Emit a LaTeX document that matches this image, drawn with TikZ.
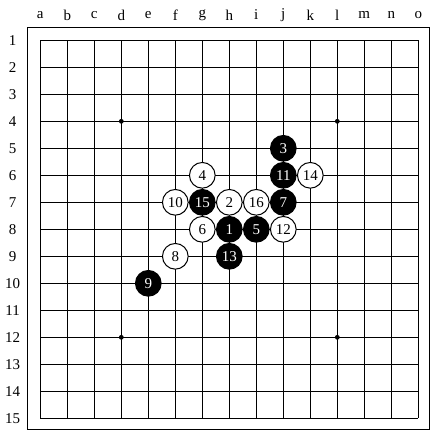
\documentclass[tikz,border=0pt]{standalone}
\usepackage{fontspec}
\setmainfont{Liberation Serif}
\begin{document}
\begin{tikzpicture}[x=27pt,y=-27pt,line width=1pt,font=\fontsize{15}{15}\selectfont,
  bstone/.style={circle,draw=black,fill=black,text=white,minimum size=25.7pt,inner sep=0pt},
  wstone/.style={circle,draw=black,fill=white,text=black,minimum size=25.7pt,inner sep=0pt}]
\useasboundingbox (-0.4926,-0.4926) rectangle (15.507,15.507);
\draw (0.526,0.526) rectangle (15.415,15.415);
% grid
\foreach \k in {1,...,15} {
  \draw (\k,1) -- (\k,15);
  \draw (1,\k) -- (15,\k);
  \node (row\k) at (-0.022,\k) {\k};
}
\foreach \l [count=\k] in {a,b,c,d,e,f,g,h,i,j,k,l,m,n,o}
  \node (col\l) at (\k,0.063) {\l};
% star points
\foreach \p/\q in {4/4,12/4,4/12,12/12}
  \fill (\p,\q) circle (2.4pt);
% moves
\foreach \n/\c/\r/\s in {1/8/8/b,2/8/7/w,3/10/5/b,4/7/6/w,5/9/8/b,6/7/8/w,7/10/7/b,8/6/9/w,
    9/5/10/b,10/6/7/w,11/10/6/b,12/10/8/w,13/8/9/b,14/11/6/w,15/7/7/b,16/9/7/w}
  \node[\s stone] (m\n) at (\c,\r) {\n};
\end{tikzpicture}
\end{document}
